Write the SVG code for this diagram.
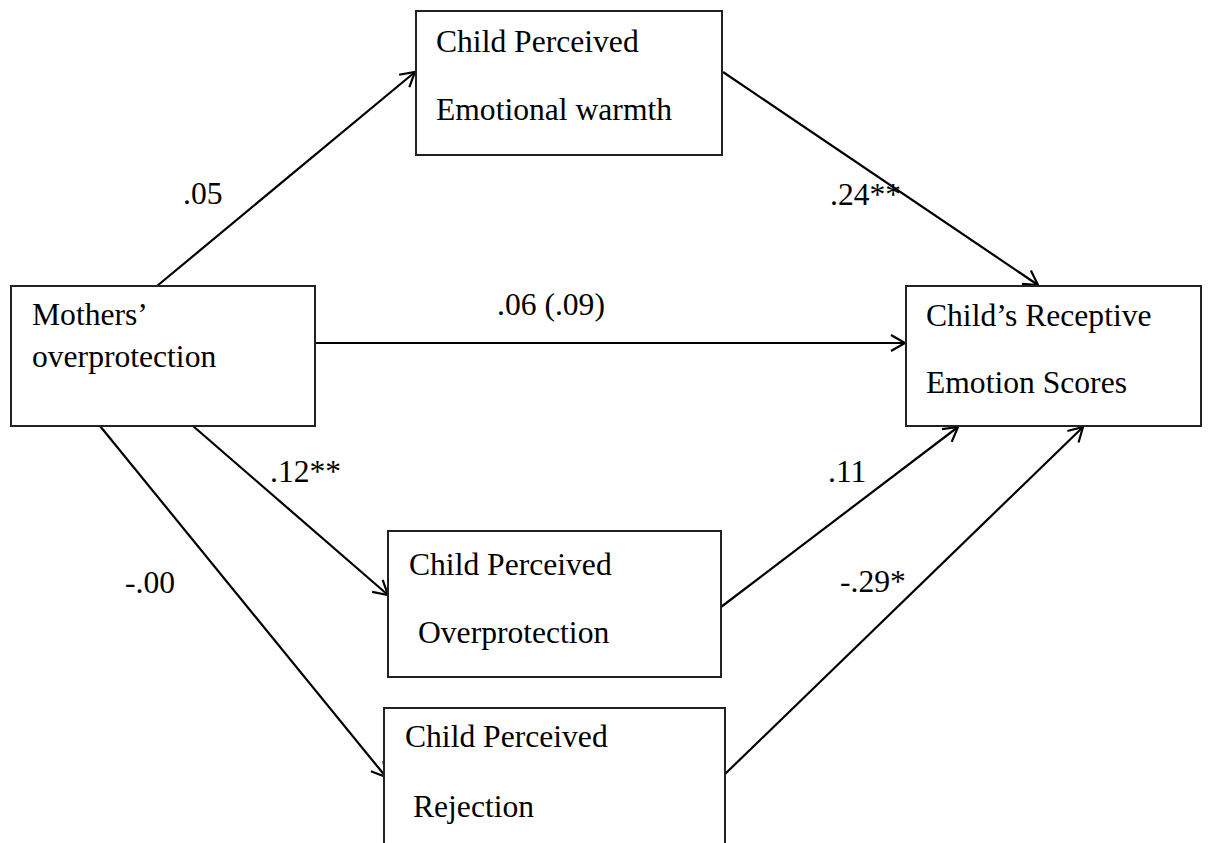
<svg xmlns="http://www.w3.org/2000/svg" width="1212" height="843" viewBox="0 0 1212 843">
<defs>
<style>
.box{fill:#fff;stroke:#222;stroke-width:2}
.t{font-family:"Liberation Serif","Times New Roman",serif;font-size:31.6px;fill:#000}
.c{stroke:#000;stroke-width:2.2;fill:none;marker-end:url(#ah)}
</style>
<marker id="ah" markerUnits="userSpaceOnUse" markerWidth="20" markerHeight="20" refX="16" refY="8" orient="auto" overflow="visible">
<path d="M2,0 L16,8 L2,16" fill="none" stroke="#000" stroke-width="2.2"/>
</marker>
</defs>
<rect width="1212" height="843" fill="#fff"/>
<g id="connectors">
<line class="c" x1="157" y1="286" x2="415" y2="72"/>
<line class="c" x1="723" y1="72" x2="1038" y2="285"/>
<line class="c" x1="315" y1="343" x2="905" y2="343"/>
<line class="c" x1="193" y1="426" x2="388" y2="595"/>
<line class="c" x1="100" y1="426" x2="386" y2="777"/>
<line class="c" x1="721" y1="607" x2="958" y2="427"/>
<line class="c" x1="724" y1="775" x2="1083" y2="427"/>
</g>
<g id="warmth">
<rect class="box" x="416" y="11" width="306" height="144"/>
<text class="t" x="436" y="52">Child Perceived</text>
<text class="t" x="436" y="120">Emotional warmth</text>
</g>
<g id="mothers">
<rect class="box" x="11" y="286" width="304" height="140"/>
<text class="t" x="32" y="325">Mothers’</text>
<text class="t" x="32" y="367">overprotection</text>
</g>
<g id="receptive">
<rect class="box" x="906" y="286" width="295" height="140"/>
<text class="t" x="926" y="326">Child’s Receptive</text>
<text class="t" x="926" y="393">Emotion Scores</text>
</g>
<g id="overprotection">
<rect class="box" x="388" y="531" width="333" height="146"/>
<text class="t" x="409" y="575">Child Perceived</text>
<text class="t" x="418" y="643">Overprotection</text>
</g>
<g id="rejection">
<rect class="box" x="384" y="708" width="341" height="160"/>
<text class="t" x="405" y="747">Child Perceived</text>
<text class="t" x="413" y="817">Rejection</text>
</g>
<g id="labels">
<text class="t" x="183" y="204">.05</text>
<text class="t" x="830" y="205">.24**</text>
<text class="t" x="497" y="315">.06 (.09)</text>
<text class="t" x="270" y="482">.12**</text>
<text class="t" x="828" y="482">.11</text>
<text class="t" x="125" y="593">-.00</text>
<text class="t" x="840" y="592">-.29*</text>
</g>
</svg>
